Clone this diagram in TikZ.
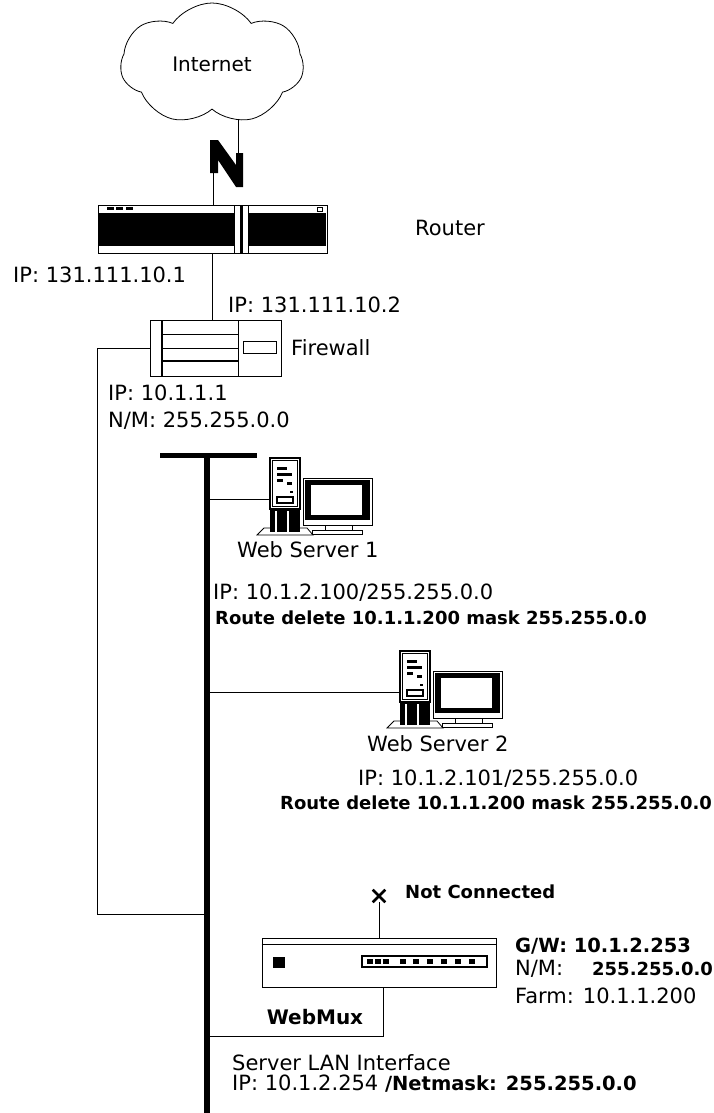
\documentclass[tikz,border=0pt]{standalone}
\usepackage{fontspec}
\setmainfont{DejaVu Sans}
\usetikzlibrary{shapes.symbols,shapes.misc}

\tikzset{
  txt/.style={anchor=base west, inner sep=0pt, font=\fontsize{21}{24}\selectfont},
  btxt/.style={anchor=base west, inner sep=0pt, font=\fontsize{18}{22}\selectfont\bfseries},
  wire/.style={line width=1pt},
  box/.style={draw, line width=1pt, fill=white, inner sep=0pt},
  pics/pc/.style={code={
    % feet
    \draw[line width=0.8pt, fill=white] (-13,77) -- (-6,70) -- (37,70) -- (43,77) -- cycle;
    % tower
    \fill (0,50) rectangle (30,74);
    \fill[white] (5,53) rectangle (7,74);
    \fill[white] (17,53) rectangle (19,74);
    \draw[line width=1.4pt, fill=white] (0,0) rectangle (30,51);
    \draw[line width=0.6pt] (2.5,2.5) rectangle (27.5,48.5);
    \fill (7,9) rectangle (17,12);
    \fill (7,15) rectangle (22,18);
    \fill (7,21) rectangle (13,24);
    \fill (17,24) rectangle (22,27);
    \fill (20,33) rectangle (23,35);
    \draw[line width=1.6pt] (7,39) rectangle (23,45);
    % monitor
    \draw[line width=1pt, fill=white] (33,20) rectangle (102,67);
    \fill (35,22) rectangle (100,62);
    \fill[white] (41,27) rectangle (92,57);
    \draw[line width=0.8pt] (55,67) rectangle (82,72);
    \draw[line width=0.8pt, fill=white] (42,72) rectangle (92,76);
    \coordinate (-port) at (0,41);
  }}
}

\begin{document}
\begin{tikzpicture}[x=1pt, y=-1pt]
  \useasboundingbox (0,0) rectangle (714,1113);

  % internet and link
  \node[cloud, cloud puffs=7, cloud puff arc=110, aspect=1.5, draw, line width=0.8pt,
        minimum width=183pt, minimum height=122pt, font=\fontsize{20}{24}\selectfont] (inet) at (212,64) {Internet};
  \coordinate (cloudfoot) at (238,119);
  \coordinate (boltTop) at (238,153);
  \coordinate (boltBot) at (213,173);
  \fill (210,140) -- (218,140) -- (236,165) -- (236,153) -- (243,153) -- (243,187)
        -- (236,187) -- (218,160) -- (218,173) -- (210,173) -- cycle;

  % router
  \node[box, minimum width=229pt, minimum height=48pt] (router) at (212.5,229) {};
  \fill (99,213) rectangle (234,246);
  \fill (248,213) rectangle (326,246);
  \draw[wire] (234,205) -- (234,253) (248,205) -- (248,253);
  \fill (239.5,205) rectangle (243,253);
  \foreach \x in {107,116,126} \fill (\x,207) rectangle ++(7,2.5);
  \draw[line width=0.8pt] (317,207) rectangle (322,211);

  % firewall
  \node[box, minimum width=131pt, minimum height=56pt] (firewall) at (215.5,348) {};
  \draw[line width=2pt] (162,320) -- (162,376);
  \draw[wire] (238,320) -- (238,376);
  \draw[wire] (162,334) -- (238,334) (162,348) -- (238,348);
  \draw[line width=1.8pt] (162,361) -- (238,361);
  \draw[wire] (243,341) rectangle (276,353);

  % LAN bus
  \coordinate (bustop) at (207,455);
  \coordinate (busbot) at (207,1113);
  \coordinate (lanLeft) at (97,914);
  \coordinate (muxlan) at (207,1036);
  \draw[line width=5pt] (160,455) -- (257,455);
  \draw[line width=6.5pt] (bustop) -- (busbot);

  % servers
  \pic (ws1) at (270,458) {pc};
  \pic (ws2) at (400,651) {pc};

  % webmux
  \node[box, minimum width=234pt, minimum height=49pt] (webmux) at (379,962.5) {};
  \draw[wire] ([yshift=-7pt]webmux.north west) -- ([yshift=-7pt]webmux.north east);
  \fill (273,957) rectangle (285,968);
  \draw[line width=1.4pt] (362,956) rectangle (487,967);
  \foreach \x in {367,375,383,400,413,427,441,455,469} \fill (\x,959) rectangle ++(6,5);
  \node[cross out, draw, line width=2.6pt, minimum size=10pt, inner sep=0pt] (nc) at (379,896) {};

  % connectors
  \draw[wire] (cloudfoot) -- (boltTop);
  \draw[wire] (boltBot) -- (boltBot |- router.north);
  \draw[wire] (router.south) -- (router.south |- firewall.north);
  \draw[wire] (firewall.west) -| (lanLeft) -- (lanLeft -| bustop);
  \draw[wire] (ws1-port) -- (ws1-port -| bustop);
  \draw[wire] (ws2-port) -- (ws2-port -| bustop);
  \draw[wire] (nc.south) -- (nc.south |- webmux.north);
  \draw[wire] ([xshift=4pt]webmux.south) |- (muxlan);

  % labels
  \node[txt] (lblrouter) at (415,235.5) {Router};
  \node[txt] (lblrtrip) at (13,282.5) {IP: 131.111.10.1};
  \node[txt] (lblfwout) at (228,312.5) {IP: 131.111.10.2};
  \node[txt] (lblfw) at (291,355) {Firewall};
  \node[txt] (lblfwin) at (108,400.5) {IP: 10.1.1.1};
  \node[txt] (lblfwnm) at (108,427.5) {N/M: 255.255.0.0};
  \node[txt] (lblws1) at (237,557.5) {Web Server 1};
  \node[txt] (lblws1ip) at (213,599.5) {IP: 10.1.2.100/255.255.0.0};
  \node[btxt] (lblws1rt) at (215,624.5) {Route delete 10.1.1.200 mask 255.255.0.0};
  \node[txt] (lblws2) at (367,751.5) {Web Server 2};
  \node[txt] (lblws2ip) at (358,785.5) {IP: 10.1.2.101/255.255.0.0};
  \node[btxt] (lblws2rt) at (280,809.5) {Route delete 10.1.1.200 mask 255.255.0.0};
  \node[btxt] (lblnc) at (405,898.5) {Not Connected};
  \node[btxt, font=\fontsize{19.5}{22}\selectfont\bfseries] (lblgw) at (515,952) {G/W: 10.1.2.253};
  \node[txt] (lblmuxnm) at (515,975.5) {N/M:\hspace{29pt}{\fontsize{18}{22}\selectfont\bfseries 255.255.0.0}};
  \node[txt] (lblfarm) at (515,1003.5) {Farm: 10.1.1.200};
  \node[btxt, font=\fontsize{20}{22}\selectfont\bfseries, anchor=center] (lblmux) at (315,1017) {WebMux};
  \node[txt] (lbllan) at (232,1070.5) {Server LAN Interface};
  \node[txt] (lbllanip) at (232,1090.5) {IP: 10.1.2.254 {\fontsize{19.5}{22}\selectfont\bfseries /Netmask: 255.255.0.0}};
\end{tikzpicture}
\end{document}
